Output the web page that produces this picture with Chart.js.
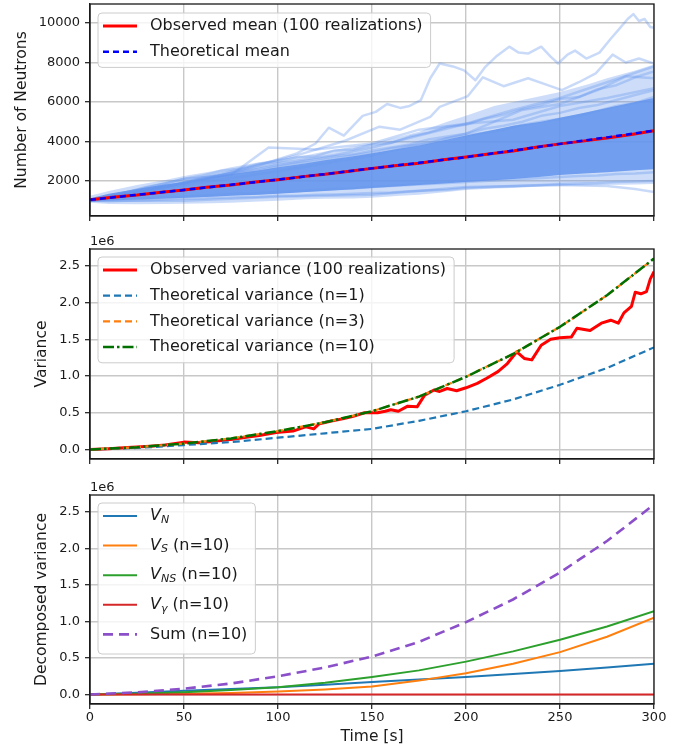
<!DOCTYPE html>
<html>
<head>
<meta charset="utf-8">
<script src="https://cdn.jsdelivr.net/npm/chart.js"></script>
<style>
  body { margin: 0; background: #fff; }
  canvas { position: absolute; left: 0; }
</style>
</head>
<body>
<canvas id="c1" width="688" height="232" style="top:0px"></canvas>
<canvas id="c2" width="688" height="236" style="top:232px"></canvas>
<canvas id="c3" width="688" height="282" style="top:468px"></canvas>
<script>
// ---- data ----
var xTicks = [0, 50, 100, 150, 200, 250, 300];
var neutronTicks = [2000, 4000, 6000, 8000, 10000];
var varTicks = [0, 0.5, 1.0, 1.5, 2.0, 2.5];

// spread of the 100 realizations (dense core + lighter fringe)
var tBand = [0, 10, 25, 40, 50, 65, 75, 90, 100, 115, 125, 140, 150, 165, 175, 190, 200, 215, 225, 240, 250, 265, 275, 290, 300];
var outerLo = [900, 840, 830, 840, 850, 870, 900, 960, 1000, 1080, 1100, 1120, 1150, 1250, 1300, 1450, 1550, 1620, 1650, 1720, 1750, 1780, 1800, 1820, 1850];
var outerHi = [1250, 1500, 1800, 2050, 2250, 2500, 2700, 2950, 3100, 3300, 3500, 3750, 3900, 4250, 4500, 5000, 5300, 5800, 6000, 6300, 6500, 6900, 7200, 7600, 7900];
var innerLo = [980, 1020, 1060, 1110, 1150, 1210, 1250, 1310, 1350, 1440, 1500, 1590, 1650, 1740, 1800, 1890, 1950, 2040, 2100, 2220, 2300, 2390, 2450, 2540, 2600];
var innerHi = [1130, 1350, 1600, 1820, 1950, 2200, 2350, 2550, 2700, 2900, 3050, 3250, 3400, 3650, 3800, 4100, 4300, 4600, 4800, 5000, 5200, 5500, 5700, 6000, 6200];

// individual realizations that stand out
var traceA_t = [0, 30, 60, 90, 110, 120, 127, 135, 145, 152, 158, 165, 170, 176, 181, 186, 193, 199, 205, 210, 216, 223, 228, 233, 240, 245, 249, 254, 258, 264, 271, 277, 282, 286, 289, 292, 295, 298, 300];
var traceA_v = [1000, 1500, 2050, 2800, 3400, 3900, 4700, 4300, 5300, 5500, 5900, 5700, 5800, 6100, 7200, 7950, 7800, 7600, 7100, 7750, 8300, 8800, 8500, 8450, 8800, 8300, 7950, 8400, 8600, 8200, 8500, 9200, 9750, 10200, 10450, 10100, 10200, 9800, 9750];
var traceB_t = [0, 40, 80, 110, 136, 154, 165, 181, 186, 201, 209, 220, 233, 245, 251, 260, 269, 278, 285, 292, 300];
var traceB_v = [1000, 1700, 2600, 3300, 4050, 4750, 4600, 5250, 5750, 6300, 7250, 6800, 7200, 6800, 6600, 7000, 7450, 8400, 8000, 8200, 7950];
var traceC_t = [0, 50, 100, 130, 150, 175, 200, 225, 250, 275, 300];
var traceC_v = [1000, 1900, 2900, 3300, 3700, 4300, 4900, 5600, 6200, 7000, 7800];
var traceD_t = [0, 50, 75, 95, 120, 150, 175, 200, 225, 250, 275, 300];
var traceD_v = [1000, 2100, 2300, 3700, 3600, 3900, 4600, 4900, 5100, 5800, 6200, 6700];
var traceE_t = [0, 50, 100, 150, 200, 250, 275, 290, 300];
var traceE_v = [1000, 1000, 1200, 1300, 1700, 1800, 1750, 1600, 1450];
var traceG_t = [0, 50, 100, 150, 200, 230, 250, 270, 285, 300];
var traceG_v = [1000, 1800, 2500, 3300, 4400, 5600, 5900, 6600, 7300, 7200];

// realizations along the edges of the mass, every 10 s
var tFringe = [0, 10, 20, 30, 40, 50, 60, 70, 80, 90, 100, 110, 120, 130, 140, 150, 160, 170, 180, 190, 200, 210, 220, 230, 240, 250, 260, 270, 280, 290, 300];
var fringeU1 = [1000, 1260, 1450, 1700, 1880, 2120, 2280, 2520, 2630, 2880, 2980, 3200, 3260, 3550, 3600, 3850, 3920, 4250, 4450, 4750, 4850, 5150, 5350, 5650, 5850, 6150, 6250, 6650, 6850, 7250, 7550];
var fringeU2 = [1000, 1200, 1420, 1560, 1780, 1950, 2180, 2300, 2480, 2620, 2800, 2950, 3100, 3250, 3350, 3550, 3700, 3850, 4100, 4250, 4400, 4650, 4800, 5000, 5300, 5450, 5700, 5850, 6100, 6350, 6600];
var fringeU3 = [1000, 1180, 1380, 1620, 1740, 1900, 2100, 2250, 2420, 2550, 2750, 2900, 3000, 3150, 3300, 3450, 3650, 3800, 3900, 4150, 4300, 4450, 4600, 4850, 5000, 5150, 5300, 5550, 5800, 5950, 6250];
var fringeL1 = [1000, 980, 1000, 1030, 1060, 1100, 1120, 1150, 1180, 1200, 1250, 1260, 1300, 1320, 1350, 1400, 1420, 1480, 1520, 1560, 1650, 1680, 1720, 1760, 1800, 1850, 1880, 1900, 1950, 1980, 2000];
var fringeL2 = [1000, 1050, 1080, 1120, 1180, 1200, 1260, 1300, 1350, 1380, 1450, 1480, 1550, 1600, 1620, 1700, 1750, 1800, 1850, 1900, 1950, 2000, 2050, 2100, 2150, 2200, 2250, 2280, 2350, 2380, 2450];

var tMean = [0, 25, 50, 75, 100, 125, 150, 175, 200, 225, 250, 275, 300];
var meanTheory = [1050, 1300, 1550, 1810, 2070, 2350, 2640, 2920, 3210, 3540, 3880, 4210, 4550];
var tMeanObs = [0, 12, 25, 38, 50, 62, 75, 88, 100, 112, 125, 138, 150, 162, 175, 188, 200, 212, 225, 238, 250, 262, 275, 288, 300];
var meanObs = [1050, 1180, 1290, 1430, 1550, 1680, 1800, 1950, 2070, 2210, 2340, 2500, 2640, 2770, 2900, 3080, 3220, 3370, 3520, 3720, 3880, 4020, 4180, 4350, 4550];

// variance (units of 1e6)
var tVar = [0, 25, 50, 75, 100, 125, 150, 175, 200, 225, 250, 275, 300];
var varN1 = [0, 0.02, 0.06, 0.10, 0.16, 0.22, 0.28, 0.39, 0.52, 0.68, 0.88, 1.11, 1.39];
var varN3 = [0, 0.03, 0.08, 0.15, 0.25, 0.37, 0.52, 0.72, 0.99, 1.30, 1.67, 2.10, 2.60];
var varN10 = [0, 0.03, 0.08, 0.15, 0.25, 0.37, 0.52, 0.72, 0.99, 1.30, 1.67, 2.10, 2.60];
var tVarObs = [0, 10, 20, 32, 40, 50, 58, 66, 76, 84, 90, 99, 108, 115, 119, 122, 129, 135, 140, 146, 153, 157, 160, 164, 169, 174, 178, 183, 186, 190, 195, 200, 206, 211, 217, 222, 227, 231, 235, 240, 245, 250, 256, 259, 266, 272, 277, 281, 284, 288, 290, 293, 296, 298, 300];
var varObs = [0, 0.01, 0.025, 0.045, 0.06, 0.10, 0.09, 0.11, 0.14, 0.17, 0.19, 0.23, 0.25, 0.31, 0.28, 0.35, 0.39, 0.42, 0.45, 0.50, 0.50, 0.52, 0.54, 0.52, 0.59, 0.58, 0.74, 0.81, 0.79, 0.83, 0.80, 0.84, 0.90, 0.97, 1.06, 1.17, 1.33, 1.24, 1.22, 1.42, 1.50, 1.52, 1.53, 1.65, 1.62, 1.72, 1.76, 1.72, 1.86, 1.95, 2.14, 2.12, 2.15, 2.32, 2.42];

// decomposed variance, n=10 (units of 1e6)
var tDec = [0, 25, 50, 75, 100, 125, 150, 175, 200, 225, 250, 275, 300];
var vN = [0, 0.025, 0.05, 0.075, 0.10, 0.135, 0.17, 0.205, 0.24, 0.28, 0.32, 0.37, 0.42];
var vS = [0, 0.004, 0.01, 0.02, 0.04, 0.07, 0.11, 0.19, 0.29, 0.42, 0.58, 0.79, 1.05];
var vNS = [0, 0.01, 0.03, 0.06, 0.10, 0.16, 0.24, 0.33, 0.45, 0.59, 0.75, 0.93, 1.14];
var vGamma = [0, 0, 0, 0, 0, 0, 0, 0, 0, 0, 0, 0, 0];
var vSum = [0, 0.03, 0.08, 0.15, 0.25, 0.37, 0.52, 0.72, 0.99, 1.30, 1.67, 2.10, 2.60];

// ---- helpers ----
var FONT = 'DejaVu Sans';
var INK = '#1a1a1a';
var CORN = 'rgba(100,149,237,';
var LEG = 16, LEGSUB = 11;

function pts(ts, vs) {
  return ts.map(function(t, i) { return {x: t, y: vs[i]}; });
}

function line(ts, vs, color, width, dash, order) {
  return {
    data: pts(ts, vs), borderColor: color, borderWidth: width,
    borderDash: dash || [], pointRadius: 0, fill: false, order: order,
    tension: 0, borderCapStyle: 'butt', borderJoinStyle: 'round'
  };
}

function band(ts, vs, fillColor, order, fillTo) {
  return {
    data: pts(ts, vs), borderWidth: 0, borderColor: 'rgba(0,0,0,0)',
    pointRadius: 0, order: order, fill: fillTo, backgroundColor: fillColor
  };
}

// frame, offset text and matplotlib-like legend
var mplBits = {
  id: 'mplBits',
  afterDraw: function(chart) {
    var a = chart.chartArea, ctx = chart.ctx;
    var o = chart.options.plugins.mplBits || {};
    ctx.save();
    ctx.strokeStyle = INK;
    ctx.lineWidth = 1.3;
    ctx.strokeRect(a.left, a.top, a.right - a.left, a.bottom - a.top);
    if (o.offsetText) {
      ctx.font = '13px "' + FONT + '"';
      ctx.fillStyle = INK;
      ctx.textAlign = 'left';
      ctx.textBaseline = 'alphabetic';
      ctx.fillText(o.offsetText, a.left, a.top - 4);
    }
    if (o.legend) drawLegend(ctx, a, o.legend);
    ctx.restore();
  }
};

function setFont(ctx, p) {
  ctx.font = (p.it ? 'italic ' : '') + (p.sub ? LEGSUB : LEG) + 'px "' + FONT + '"';
}

function partsWidth(ctx, parts) {
  var w = 0;
  parts.forEach(function(p) { setFont(ctx, p); w += ctx.measureText(p.t).width; });
  return w;
}

function drawLegend(ctx, a, lg) {
  var x0 = a.left + 8, y0 = a.top + lg.top;
  var w = 0;
  lg.items.forEach(function(it) { w = Math.max(w, partsWidth(ctx, it.parts)); });
  var bw = 52 + w + 8, bh = lg.items.length * lg.row + 3;
  ctx.beginPath();
  ctx.roundRect(x0, y0, bw, bh, 4);
  ctx.fillStyle = 'rgba(255,255,255,0.8)';
  ctx.fill();
  ctx.strokeStyle = '#cccccc';
  ctx.lineWidth = 1;
  ctx.stroke();
  lg.items.forEach(function(it, i) {
    var cy = y0 + 13 + i * lg.row;
    ctx.beginPath();
    ctx.setLineDash(it.dash || []);
    ctx.strokeStyle = it.color;
    ctx.lineWidth = it.width;
    ctx.moveTo(x0 + 5, cy);
    ctx.lineTo(x0 + 39, cy);
    ctx.stroke();
    ctx.setLineDash([]);
    var x = x0 + 52;
    ctx.fillStyle = INK;
    ctx.textAlign = 'left';
    ctx.textBaseline = 'middle';
    it.parts.forEach(function(p) {
      setFont(ctx, p);
      ctx.fillText(p.t, x, cy + (p.sub ? 4 : 0));
      x += ctx.measureText(p.t).width;
    });
  });
}

function scales(o) {
  return {
    x: {
      type: 'linear', min: 0, max: 300,
      afterBuildTicks: function(s) { s.ticks = xTicks.map(function(v) { return {value: v}; }); },
      afterFit: function(s) { s.height = o.xH; s.paddingLeft = 0; s.paddingRight = 0; },
      grid: {color: '#c8c8c8', lineWidth: 1.4, tickColor: INK, tickLength: 5, tickWidth: 1.2},
      border: {display: true, color: INK, width: 1.3},
      ticks: {display: !!o.xLabels, padding: 1, color: INK, font: {family: FONT, size: 13},
              maxRotation: 0, callback: function(v) { return String(v); }},
      title: {display: !!o.xLabels, text: 'Time [s]', color: INK,
              font: {family: FONT, size: 15.5}, padding: {top: 0, bottom: 4}}
    },
    y: {
      type: 'linear', min: o.yMin, max: o.yMax,
      afterBuildTicks: function(s) { s.ticks = o.yTicks.map(function(v) { return {value: v}; }); },
      afterFit: function(s) { s.width = 90; s.paddingTop = 0; s.paddingBottom = 0; },
      grid: {color: '#c8c8c8', lineWidth: 1.4, tickColor: INK, tickLength: 5, tickWidth: 1.2},
      border: {display: true, color: INK, width: 1.3},
      ticks: {padding: 5, color: INK, font: {family: FONT, size: 13}, callback: o.fmt},
      title: {display: true, text: o.yTitle, color: INK,
              font: {family: FONT, size: 15.5}, padding: {top: o.titlePad, bottom: 0}}
    }
  };
}

function makeChart(id, datasets, o) {
  return new Chart(document.getElementById(id), {
    type: 'line',
    data: {datasets: datasets},
    options: {
      responsive: false, animation: false, devicePixelRatio: 1, events: [],
      layout: {padding: {top: o.padTop, right: 34, left: 0, bottom: 0}},
      plugins: {legend: {display: false}, tooltip: {enabled: false}, mplBits: o.bits},
      scales: scales(o)
    },
    plugins: [mplBits]
  });
}

var faint = CORN + '0.35)';

// ---- top: neutron population ----
makeChart('c1', [
  band(tBand, outerLo, CORN + '0.32)', 20, false),
  band(tBand, outerHi, CORN + '0.32)', 19, '-1'),
  band(tBand, innerLo, CORN + '0.88)', 18, false),
  band(tBand, innerHi, CORN + '0.88)', 17, '-1'),
  line(tFringe, fringeU1, faint, 2.5, null, 11),
  line(tFringe, fringeU2, faint, 2.5, null, 11),
  line(tFringe, fringeU3, faint, 2.5, null, 11),
  line(tFringe, fringeL1, faint, 2.5, null, 11),
  line(tFringe, fringeL2, faint, 2.5, null, 11),
  line(traceA_t, traceA_v, faint, 2.5, null, 10),
  line(traceB_t, traceB_v, faint, 2.5, null, 10),
  line(traceC_t, traceC_v, faint, 2.5, null, 10),
  line(traceD_t, traceD_v, faint, 2.5, null, 10),
  line(traceE_t, traceE_v, faint, 2.5, null, 10),
  line(traceG_t, traceG_v, faint, 2.5, null, 10),
  line(tMeanObs, meanObs, '#ff0000', 3, null, 1),
  line(tMean, meanTheory, '#0000ff', 2.5, [6, 4], 0)
], {
  padTop: 4, xH: 16, yMin: 230, yMax: 10960, yTicks: neutronTicks,
  yTitle: 'Number of Neutrons', titlePad: 13,
  fmt: function(v) { return String(v); },
  bits: {legend: {top: 9, row: 25.7, items: [
    {parts: [{t: 'Observed mean (100 realizations)'}], color: '#ff0000', width: 3},
    {parts: [{t: 'Theoretical mean'}], color: '#0000ff', width: 2.5, dash: [6, 4]}
  ]}}
});

// ---- middle: variance ----
makeChart('c2', [
  line(tVarObs, varObs, '#ff0000', 3, null, 3),
  line(tVar, varN1, '#1f77b4', 2.2, [7, 4], 2),
  line(tVar, varN3, '#ff7f0e', 2.2, [7, 4], 1),
  line(tVar, varN10, '#007000', 2.5, [11, 3, 2.5, 3], 0)
], {
  padTop: 17, xH: 9, yMin: -0.13, yMax: 2.73, yTicks: varTicks,
  yTitle: 'Variance', titlePad: 33,
  fmt: function(v) { return v.toFixed(1); },
  bits: {offsetText: '1e6', legend: {top: 8, row: 25.7, items: [
    {parts: [{t: 'Observed variance (100 realizations)'}], color: '#ff0000', width: 3},
    {parts: [{t: 'Theoretical variance (n=1)'}], color: '#1f77b4', width: 2.2, dash: [7, 4]},
    {parts: [{t: 'Theoretical variance (n=3)'}], color: '#ff7f0e', width: 2.2, dash: [7, 4]},
    {parts: [{t: 'Theoretical variance (n=10)'}], color: '#007000', width: 2.5, dash: [11, 3, 2.5, 3]}
  ]}}
});

// ---- bottom: decomposed variance ----
makeChart('c3', [
  line(tDec, vN, '#1f77b4', 2, null, 4),
  line(tDec, vS, '#ff7f0e', 2, null, 3),
  line(tDec, vNS, '#2ca02c', 2, null, 2),
  line(tDec, vGamma, '#d62728', 2, null, 1),
  line(tDec, vSum, '#8a4fc9', 2.6, [10, 6], 0)
], {
  padTop: 27, xH: 46, xLabels: true, yMin: -0.13, yMax: 2.73, yTicks: varTicks,
  yTitle: 'Decomposed variance', titlePad: 33,
  fmt: function(v) { return v.toFixed(1); },
  bits: {offsetText: '1e6', legend: {top: 8, row: 29.6, items: [
    {parts: [{t: 'V', it: true}, {t: 'N', it: true, sub: true}], color: '#1f77b4', width: 2},
    {parts: [{t: 'V', it: true}, {t: 'S', it: true, sub: true}, {t: ' (n=10)'}], color: '#ff7f0e', width: 2},
    {parts: [{t: 'V', it: true}, {t: 'NS', it: true, sub: true}, {t: ' (n=10)'}], color: '#2ca02c', width: 2},
    {parts: [{t: 'V', it: true}, {t: 'γ', it: true, sub: true}, {t: ' (n=10)'}], color: '#d62728', width: 2},
    {parts: [{t: 'Sum (n=10)'}], color: '#8a4fc9', width: 2.6, dash: [10, 6]}
  ]}}
});
</script>
</body>
</html>
